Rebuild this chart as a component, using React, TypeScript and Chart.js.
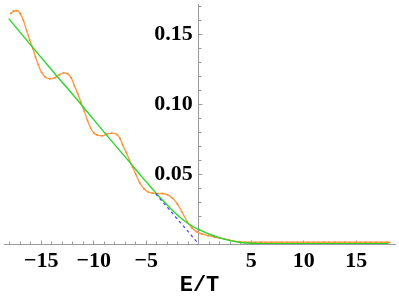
import React, { useEffect, useRef } from 'react';
import { Chart, registerables } from 'chart.js';

Chart.register(...registerables);

// ---- data ----
const orangeX = [
  -17.9, -17.6, -17.3, -17.0, -16.7, -16.4, -16.1, -15.8, -15.55, -15.28,
  -14.97, -14.65, -14.2, -13.7, -13.25, -12.85, -12.48, -12.15, -11.85, -11.54,
  -11.23, -10.9, -10.6, -10.3, -10.0, -9.67, -9.2, -8.74, -8.27, -7.8,
  -7.5, -7.25, -6.9, -6.6, -6.3, -6.0, -5.63, -5.2, -4.8, -4.4,
  -3.9, -3.44, -2.97, -2.5, -2.04, -1.57, -1.1, -0.64, -0.2, 0.3,
  0.9, 1.5, 2.0, 2.5, 2.94, 3.4, 3.88, 4.4, 4.9, 5.4,
  5.9, 6.4, 6.9, 7.4, 7.9, 8.4, 8.9, 9.4, 9.9, 10.4,
  10.9, 11.4, 11.9, 12.4, 12.9, 13.4, 13.9, 14.4, 14.9, 15.4,
  15.9, 16.4, 16.9, 17.4, 17.9, 18.2,
];
const orangeY = [
  0.165, 0.1668, 0.167, 0.165, 0.16, 0.153, 0.146, 0.14, 0.134, 0.1284,
  0.1228, 0.1197, 0.1183, 0.119, 0.1212, 0.1225, 0.1218, 0.119, 0.1135, 0.108,
  0.1015, 0.095, 0.0885, 0.083, 0.0795, 0.078, 0.0775, 0.0787, 0.0794, 0.0784,
  0.0756, 0.071, 0.0655, 0.06, 0.055, 0.05, 0.044, 0.0395, 0.0372, 0.0364,
  0.0361, 0.0361, 0.0352, 0.0329, 0.0287, 0.0227, 0.016, 0.0115, 0.0088, 0.0072,
  0.006, 0.005, 0.0043, 0.0035, 0.0028, 0.0021, 0.0016, 0.0013, 0.0012, 0.0012,
  0.0012, 0.0012, 0.0012, 0.0012, 0.0012, 0.0012, 0.0012, 0.0012, 0.0012, 0.0012,
  0.0012, 0.0012, 0.0012, 0.0012, 0.0012, 0.0012, 0.0012, 0.0012, 0.0012, 0.0012,
  0.0012, 0.0012, 0.0012, 0.0012, 0.0012, 0.0012,
];

const greenX = [
  -18.1, -15.9, -13.6, -11.1, -8.9, -6.4, -5.47, -4.53, -3.6, -2.66,
  -1.73, -0.79, 0, 1.07, 2.0, 3.0, 4.0, 5.0, 6.0, 18.1,
];
const greenY = [
  0.1613, 0.1415, 0.121, 0.099, 0.079, 0.057, 0.0486, 0.0404, 0.0325, 0.0253,
  0.0188, 0.0136, 0.0104, 0.0068, 0.0045, 0.0024, 0.0011, 0.0005, 0.0003, 0.0003,
];

const blueX = [-4.1, 0];
const blueY = [0.036, 0];

const xMajorTicks = [-15, -10, -5, 5, 10, 15];
const xMinorTicks = [
  -18, -17, -16, -14, -13, -12, -11, -9, -8, -7, -6, -4, -3, -2, -1,
  1, 2, 3, 4, 6, 7, 8, 9, 11, 12, 13, 14, 16, 17, 18,
];
const yMajorTicks = [0.05, 0.1, 0.15];
const yMinorTicks = [
  0.01, 0.02, 0.03, 0.04, 0.06, 0.07, 0.08, 0.09, 0.11, 0.12, 0.13, 0.14, 0.16, 0.17,
];
const xTitle = 'E/T';

const X_MIN = -18.55;
const X_MAX = 18.7;
const Y_MIN = 0;
const Y_MAX = 0.1718;

const toPts = (xs: number[], ys: number[]) => xs.map((x, i) => ({ x, y: ys[i] }));

const zeroPad = (s: any) => {
  s.paddingTop = 0;
  s.paddingBottom = 0;
  s.paddingLeft = 0;
  s.paddingRight = 0;
};

const AXIS_COLOR = '#9a9a9a';
const labelFont = { family: "'Liberation Serif', 'Times New Roman', serif", weight: 'bold' as const, size: 22 };

export default function App() {
  const ref = useRef<HTMLCanvasElement | null>(null);

  useEffect(() => {
    document.body.style.margin = '0';
    if (!ref.current) return;
    const chart = new Chart(ref.current, {
      type: 'line',
      data: {
        datasets: [
          {
            label: 'asymptote',
            data: toPts(blueX, blueY),
            borderColor: 'rgb(70,70,245)',
            borderWidth: 1.2,
            borderDash: [3, 3],
            pointRadius: 0,
            xAxisID: 'x',
            yAxisID: 'y',
          },
          {
            label: 'fit',
            data: toPts(greenX, greenY),
            borderColor: 'rgb(40,215,40)',
            borderWidth: 1.4,
            pointRadius: 0,
            cubicInterpolationMode: 'monotone',
            xAxisID: 'x',
            yAxisID: 'y',
          },
          {
            label: 'data',
            data: toPts(orangeX, orangeY),
            borderColor: 'rgb(255,155,70)',
            borderWidth: 1.4,
            pointRadius: 0.9,
            pointBackgroundColor: 'rgb(245,140,50)',
            pointBorderWidth: 0,
            cubicInterpolationMode: 'monotone',
            xAxisID: 'x',
            yAxisID: 'y',
          },
        ],
      },
      options: {
        responsive: true,
        maintainAspectRatio: false,
        animation: false,
        layout: { padding: { left: 0, right: 0, top: 0, bottom: 52 } },
        plugins: { legend: { display: false }, tooltip: { enabled: false } },
        scales: {
          x: {
            type: 'linear',
            min: X_MIN,
            max: X_MAX,
            position: { y: 0 } as any,
            afterBuildTicks: (s: any) => {
              s.ticks = xMajorTicks.map((v) => ({ value: v }));
            },
            afterFit: zeroPad,
            grid: { drawOnChartArea: false, drawTicks: true, tickLength: -4.5, color: AXIS_COLOR, lineWidth: 1 },
            border: { display: true, color: AXIS_COLOR, width: 1 },
            ticks: {
              font: labelFont,
              color: '#000',
              padding: 9,
              maxRotation: 0,
              autoSkip: false,
              callback: (v: any) => (Number(v) < 0 ? '\u2212' + Math.abs(Number(v)) : String(v)),
            },
            title: {
              display: true,
              text: xTitle,
              color: '#000',
              font: { family: "'Liberation Mono', 'Courier New', monospace", weight: 'bold', size: 22 },
              padding: { top: -12, bottom: 4 },
            },
          },
          xMinor: {
            type: 'linear',
            min: X_MIN,
            max: X_MAX,
            position: { y: 0 } as any,
            afterBuildTicks: (s: any) => {
              s.ticks = xMinorTicks.map((v) => ({ value: v }));
            },
            afterFit: zeroPad,
            grid: { drawOnChartArea: false, drawTicks: true, tickLength: -2.5, color: AXIS_COLOR, lineWidth: 1 },
            border: { display: false },
            ticks: { display: false },
          },
          y: {
            type: 'linear',
            min: Y_MIN,
            max: Y_MAX,
            position: { x: 0 } as any,
            afterBuildTicks: (s: any) => {
              s.ticks = yMajorTicks.map((v) => ({ value: v }));
            },
            afterFit: zeroPad,
            grid: { drawOnChartArea: false, drawTicks: true, tickLength: -4.5, color: AXIS_COLOR, lineWidth: 1 },
            border: { display: true, color: AXIS_COLOR, width: 1 },
            ticks: { display: false },
          },
          yMinor: {
            type: 'linear',
            min: Y_MIN,
            max: Y_MAX,
            position: { x: 0 } as any,
            afterBuildTicks: (s: any) => {
              s.ticks = yMinorTicks.map((v) => ({ value: v }));
            },
            afterFit: zeroPad,
            grid: { drawOnChartArea: false, drawTicks: true, tickLength: -2.5, color: AXIS_COLOR, lineWidth: 1 },
            border: { display: false },
            ticks: { display: false },
          },
          yLab: {
            type: 'linear',
            min: Y_MIN,
            max: Y_MAX,
            position: { x: -0.56 } as any,
            afterBuildTicks: (s: any) => {
              s.ticks = yMajorTicks.map((v) => ({ value: v }));
            },
            afterFit: zeroPad,
            grid: { display: false },
            border: { display: false },
            ticks: {
              font: labelFont,
              color: '#000',
              padding: 0,
              callback: (v: any) => Number(v).toFixed(2),
            },
          },
        },
      },
    } as any);
    return () => chart.destroy();
  }, []);

  return (
    <div style={{ width: 399, height: 296, position: 'relative' }}>
      <canvas ref={ref} />
    </div>
  );
}
